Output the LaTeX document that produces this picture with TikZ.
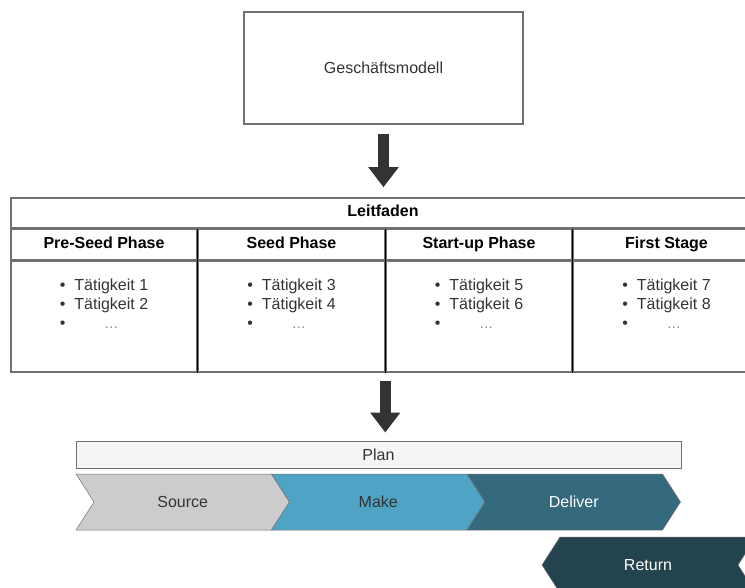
\documentclass[tikz,border=0pt]{standalone}
\usepackage{fontspec}
\setmainfont{Liberation Sans}
\usepackage{xcolor}
\usetikzlibrary{arrows.meta,positioning,calc}
\definecolor{txtgray}{HTML}{333333}
\definecolor{linegray}{HTML}{707070}
\definecolor{plangray}{HTML}{F5F5F5}
\definecolor{srcgray}{HTML}{CCCCCC}
\definecolor{makeblue}{HTML}{4FA3C4}
\definecolor{delblue}{HTML}{35697D}
\definecolor{retdark}{HTML}{23434E}

\begin{document}
\begin{tikzpicture}[
    x=1pt, y=-1pt,
    font=\fontsize{16}{19}\selectfont, text=txtgray,
    modelbox/.style={rectangle, draw=linegray, line width=1.2pt, minimum width=279pt, minimum height=112pt},
    cell/.style={rectangle, draw=linegray, line width=1.5pt, minimum width=186pt, inner sep=0pt},
    head/.style={cell, minimum height=30pt, text height=11.5pt, text depth=3.5pt, text=black, font=\fontsize{16}{19}\selectfont\bfseries},
    body/.style={cell, minimum height=111pt},
    list/.style={inner sep=0pt, anchor=north},
    sep/.style={black, line width=0.6pt},
    planbar/.style={rectangle, draw=linegray, line width=1pt, fill=plangray, minimum width=605pt, minimum height=27pt, inner sep=0pt},
    bigarrow/.style={draw=txtgray, line width=11pt, -{Triangle[width=29pt, length=20pt]}}
]
\clip (0,0) rectangle (745,588);

% Top box
\node[modelbox] (model) at (383.5,68) {Geschäftsmodell};

% Leitfaden table
\node[head, minimum width=744pt] (title) at (383,213) {Leitfaden};
\node[head, anchor=north west] (h1) at (title.south west) {Pre-Seed Phase};
\node[head, right=0pt of h1] (h2) {Seed Phase};
\node[head, right=0pt of h2] (h3) {Start-up Phase};
\node[head, right=0pt of h3] (h4) {First Stage};
\foreach \i in {1,2,3,4}
  \node[body, below=0pt of h\i] (b\i) {};
\foreach \i in {1,2,3}
  \draw[sep] (h\i.north east) -- (b\i.south east);

% Lists
\foreach \i/\a/\b in {1/1/2, 2/3/4, 3/5/6, 4/7/8}
  \node[list, below=17pt of b\i.north] (l\i) {\begin{tabular}{@{}c@{\hspace{9pt}}c@{}}
    \textbullet & Tätigkeit \a\\
    \textbullet & Tätigkeit \b\\
    \textbullet & {\color{gray}\fontsize{14}{19}\selectfont\dots}
  \end{tabular}};

% Plan and chevrons
\node[planbar] (plan) at (378.5,454.5) {Plan};
\foreach \x/\c/\t/\n/\w in {76/srcgray/txtgray/src/Source, 271.5/makeblue/txtgray/make/Make, 467/delblue/white/del/Deliver} {
  \filldraw[fill=\c, draw=black!55, line width=0.5pt] (\x,474) -- ++(195.5,0) -- ++(18,28) -- ++(-18,28) -- ++(-195.5,0) -- ++(18,-28) -- cycle;
  \node[text=\t] (\n) at (\x+106.75,502) {\w};
}
\filldraw[fill=retdark, draw=black!55, line width=0.5pt] (542,565) -- (560,537) -- (756,537) -- (738,565) -- (756,593) -- (560,593) -- cycle;
\node[text=white] (ret) at (648,565) {Return};

% Arrows
\draw[bigarrow, shorten <=9pt, shorten >=10pt] (model.south) -- (model.south |- title.north);
\draw[bigarrow, shorten <=8pt, shorten >=8pt] (b2.south east) -- (b2.south east |- plan.north);

\end{tikzpicture}
\end{document}
